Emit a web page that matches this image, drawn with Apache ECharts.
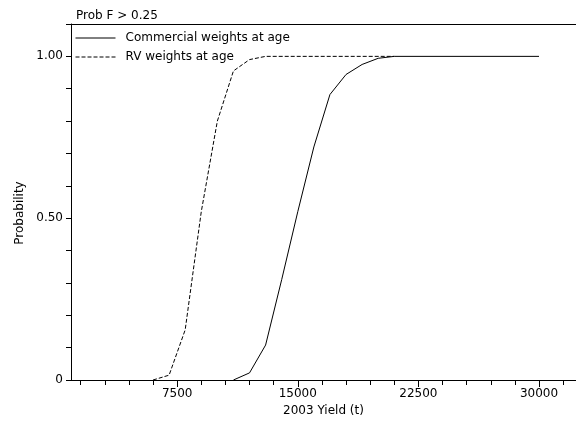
<!DOCTYPE html>
<html>
<head>
<meta charset="utf-8">
<script src="https://cdn.jsdelivr.net/npm/echarts@6/dist/echarts.min.js"></script>
<style>
    html, body { margin: 0; padding: 0; background: #fff; }
    #chart { width: 576px; height: 422px; }
</style>
</head>
<body>
<div id="chart"></div>
<script>
    // yield (t) sample points and P(F > 0.25)
    var yieldCommercial = [11000, 12000, 13000, 14000, 15000, 16000, 17000, 18000, 19000, 20000, 21000, 30000];
    var probCommercial = [0, 0.022, 0.108, 0.31, 0.52, 0.72, 0.882, 0.944, 0.975, 0.994, 1.0, 1.0];

    var yieldRV = [6000, 7000, 8000, 9000, 10000, 11000, 12000, 13000, 21000];
    var probRV = [0, 0.015, 0.155, 0.52, 0.8, 0.955, 0.99, 1.0, 1.0];

    var xLabels = [7500, 15000, 22500, 30000];
    var xMinorTicks = [1500, 3000, 4500, 6000, 9000, 10500, 12000, 13500, 16500, 18000, 19500, 21000, 24000, 25500, 27000, 28500, 31500];
    var yLabels = [0, 0.5, 1.0];
    var yTicks = [0, 0.1, 0.2, 0.3, 0.4, 0.5, 0.6, 0.7, 0.8, 0.9, 1.0, 1.1];

    var font = '"DejaVu Sans", Verdana, sans-serif';

    function pairs(xs, ys) {
        return xs.map(function (x, i) { return [x, ys[i]]; });
    }

    // one legend per row so each sits at its own y
    function legendRow(name, top) {
        return {
            orient: 'vertical',
            left: 75,
            top: top,
            itemWidth: 40,
            itemHeight: 14,
            padding: 0,
            selectedMode: false,
            itemStyle: { opacity: 0 },
            lineStyle: { width: 1 },
            textStyle: { fontSize: 12, color: '#000', fontFamily: font, padding: [8, 0, 0, 5] },
            data: [name]
        };
    }

    var chart = echarts.init(document.getElementById('chart'));
    var option = {
        animation: false,
        textStyle: { fontFamily: font },
        title: {
            text: 'Prob F > 0.25',
            left: 76,
            top: 10,
            padding: 0,
            textStyle: { fontSize: 12, fontWeight: 'normal', color: '#000', fontFamily: font }
        },
        legend: [
            legendRow('Commercial weights at age', 32),
            legendRow('RV weights at age', 51)
        ],
        grid: { left: 71, right: 0, top: 24, bottom: 42, containLabel: false },
        xAxis: [
            {
                type: 'value', min: 900, max: 32300, position: 'bottom',
                name: '2003 Yield (t)', nameLocation: 'middle', nameGap: 24,
                nameTextStyle: { fontSize: 12, color: '#000', fontFamily: font },
                axisLine: { show: true, lineStyle: { color: '#000', width: 1 } },
                axisTick: { show: true, length: 7, customValues: xLabels, lineStyle: { color: '#000' } },
                axisLabel: {
                    customValues: xLabels, margin: 8, fontSize: 12, color: '#000', fontFamily: font,
                    formatter: function (v) { return String(v); }
                },
                splitLine: { show: false }
            },
            {
                type: 'value', min: 900, max: 32300, position: 'bottom',
                axisLine: { show: false },
                axisTick: { show: true, length: 5, customValues: xMinorTicks, lineStyle: { color: '#000' } },
                axisLabel: { show: false },
                splitLine: { show: false }
            },
            {
                type: 'value', min: 900, max: 32300, position: 'top',
                axisLine: { show: true, lineStyle: { color: '#000', width: 1 } },
                axisTick: { show: false },
                axisLabel: { show: false },
                splitLine: { show: false }
            }
        ],
        yAxis: {
            type: 'value', min: 0, max: 1.1,
            axisLine: { show: true, lineStyle: { color: '#000', width: 1 } },
            axisTick: { show: true, length: 5, customValues: yTicks, lineStyle: { color: '#000' } },
            axisLabel: {
                customValues: yLabels, margin: 8, fontSize: 12, color: '#000', fontFamily: font,
                formatter: function (v) { return v === 0 ? '0' : v.toFixed(2); }
            },
            splitLine: { show: false }
        },
        graphic: [
            {
                type: 'text', x: 20, y: 213, rotation: Math.PI / 2,
                style: { text: 'Probability', align: 'center', verticalAlign: 'middle', font: '12px ' + font, fill: '#000' }
            }
        ],
        series: [
            {
                name: 'Commercial weights at age',
                type: 'line',
                symbol: 'none',
                color: '#000',
                lineStyle: { color: '#000', width: 1, type: 'solid' },
                data: pairs(yieldCommercial, probCommercial)
            },
            {
                name: 'RV weights at age',
                type: 'line',
                symbol: 'none',
                color: '#000',
                lineStyle: { color: '#000', width: 1, type: [4, 2] },
                data: pairs(yieldRV, probRV)
            }
        ]
    };
    chart.setOption(option);
</script>
</body>
</html>
